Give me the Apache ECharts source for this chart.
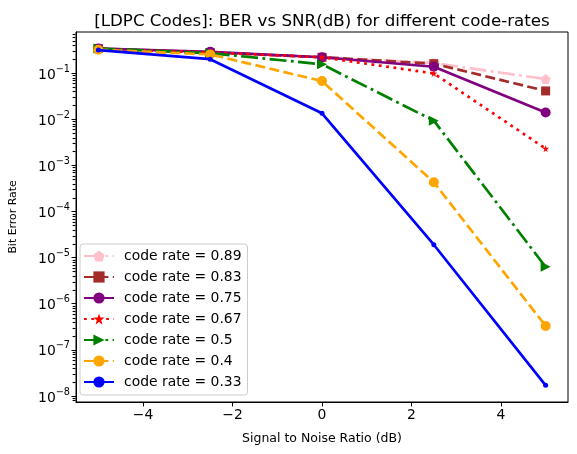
<!DOCTYPE html>
<html><head><meta charset="utf-8">
<script src="https://cdn.jsdelivr.net/npm/echarts@6/dist/echarts.min.js"></script>
<style>html,body{margin:0;padding:0;background:#fff}#c{width:577px;height:454px}</style>
</head><body><div id="c"></div>
<script>
const snr = [-5, -2.5, 0, 2.5, 5];
const rates = ['0.89','0.83','0.75','0.67','0.5','0.4','0.33'];
const ber_089 = [0.34, 0.28, 0.22, 0.165, 0.074];
const ber_083 = [0.34, 0.28, 0.22, 0.160, 0.041];
const ber_075 = [0.34, 0.29, 0.22, 0.137, 0.014];
const ber_067 = [0.33, 0.28, 0.22, 0.098, 0.0023];
const ber_050 = [0.34, 0.27, 0.155, 0.0093, 6.3e-6];
const ber_040 = [0.32, 0.254, 0.067, 4.3e-4, 3.3e-7];
const ber_033 = [0.315, 0.20, 0.0134, 1.9e-5, 1.7e-8];
const xTicks = [-4, -2, 0, 2, 4];
const yTickExps = [-8, -7, -6, -5, -4, -3, -2, -1];

const allBer = [ber_089, ber_083, ber_075, ber_067, ber_050, ber_040, ber_033];
const colors = ['#ffc0cb', '#a52a2a', '#800080', '#ff0000', '#008000', '#ffa500', '#0000ff'];
const lw = 2.7;
const dashed = [10, 4.4];
const dashdot = [17, 4.4, 2.8, 4.4];
const dotted = [2.8, 4.6];
const lineTypes = [dashdot, dashed, 'solid', dotted, dashdot, dashed, 'solid'];
const pent = 'path://M0,-1 L0.951,-0.309 L0.588,0.809 L-0.588,0.809 L-0.951,-0.309 Z';
const star = 'path://M0,-1 L0.25,-0.3 L1,-0.3 L0.4,0.15 L0.6,0.9 L0,0.45 L-0.6,0.9 L-0.4,0.15 L-1,-0.3 L-0.25,-0.3 Z';
const symbols = [pent, 'rect', 'circle', star, 'triangle', 'circle', 'circle'];
const symSizes = [10, 9, 10, 7, 10, 10, 5];
const symRot = [0, 0, 0, 0, -90, 0, 0];

const yMin = -8.13, yMax = -0.11;
const xMin = -5.5, xMax = 5.5;
const minor = [];
for (let n = -9; n <= 0; n++) for (let k = 2; k <= 9; k++) {
  const v = n + Math.log10(k);
  if (v > yMin && v < yMax) minor.push(v);
}

const series = allBer.map((arr, i) => ({
  name: 'code rate = ' + rates[i],
  type: 'line',
  xAxisIndex: 0, yAxisIndex: 0,
  data: arr.map((b, j) => [snr[j], Math.log10(b)]),
  symbol: symbols[i],
  symbolSize: symSizes[i],
  symbolRotate: symRot[i],
  showAllSymbol: true,
  color: colors[i],
  lineStyle: {color: colors[i], width: lw, type: lineTypes[i]},
  itemStyle: {color: colors[i], borderWidth: 0},
  emphasis: {disabled: true},
  animation: false,
  z: 2 + i
}));

// minor log ticks on the y axis, drawn through the axis scale
series.push({
  name: 'minorTicks',
  type: 'custom',
  coordinateSystem: 'cartesian2d',
  xAxisIndex: 0, yAxisIndex: 0,
  silent: true, animation: false, clip: false, z: 20,
  encode: {x: 0, y: 1},
  data: minor.map(v => [xMin, v]),
  renderItem: (params, api) => {
    const p = api.coord([api.value(0), api.value(1)]);
    const y = Math.round(p[1]) + 0.5;
    return {type: 'line', shape: {x1: p[0] - 3.4, y1: y, x2: p[0] - 0.5, y2: y},
      style: {stroke: '#000', lineWidth: 1.1, fill: null}};
  }
});

const chart = echarts.init(document.getElementById('c'), null, {renderer: 'canvas'});
const fam = 'DejaVu Sans';
chart.setOption({
  backgroundColor: '#fff',
  animation: false,
  textStyle: {fontFamily: fam},
  title: {
    text: '[LDPC Codes]: BER vs SNR(dB) for different code-rates',
    left: 317, textAlign: 'center', top: 8,
    textStyle: {fontFamily: fam, fontSize: 16.7, fontWeight: 'normal', color: '#000'}
  },
  grid: {left: 72, right: 9, top: 32, bottom: 52, show: true, borderColor: '#000', borderWidth: 1, backgroundColor: 'transparent'},
  legend: {
    orient: 'vertical', left: 80, top: 244,
    itemWidth: 30, itemHeight: 14, itemGap: 7,
    padding: [5, 6, 6, 3],
    backgroundColor: 'rgba(255,255,255,0.8)', borderColor: '#cccccc', borderWidth: 1, borderRadius: 3,
    textStyle: {fontFamily: fam, fontSize: 13.9, color: '#000', padding: [0, 0, 0, 5]},
    data: series.slice(0, 7).map(s => s.name)
  },
  xAxis: {
    type: 'value', min: xMin, max: xMax,
    name: 'Signal to Noise Ratio (dB)', nameLocation: 'middle', nameGap: 30,
    nameTextStyle: {fontFamily: fam, fontSize: 12.5, color: '#000'},
    axisLine: {show: true, onZero: false, lineStyle: {color: '#000', width: 1}},
    axisTick: {show: true, inside: false, length: 4.5, lineStyle: {color: '#000'}, customValues: xTicks},
    axisLabel: {customValues: xTicks, color: '#000', fontSize: 13.9, fontFamily: fam, margin: 6,
      formatter: v => (v < 0 ? '\u2212' + (-v) : String(v))},
    splitLine: {show: false}
  },
  yAxis: [{
    type: 'value', min: yMin, max: yMax,
    name: 'Bit Error Rate', nameLocation: 'middle', nameGap: 57, nameRotate: 90,
    nameTextStyle: {fontFamily: fam, fontSize: 10.9, color: '#000'},
    axisLine: {show: true, onZero: false, lineStyle: {color: '#000', width: 1}},
    axisTick: {show: true, inside: false, length: 4.5, lineStyle: {color: '#000'}, customValues: yTickExps},
    axisLabel: {customValues: yTickExps, color: '#000', fontFamily: fam, margin: 6,
      formatter: v => '{b|10}{s|\u2212' + (-Math.round(v)) + '}',
      rich: {
        b: {fontSize: 13.9, fontFamily: fam, color: '#000', verticalAlign: 'bottom'},
        s: {fontSize: 9.7, fontFamily: fam, color: '#000', verticalAlign: 'top', padding: [0, 0, 8, 0]}
      }},
    splitLine: {show: false}
  }],
  series: series
});
</script></body></html>
